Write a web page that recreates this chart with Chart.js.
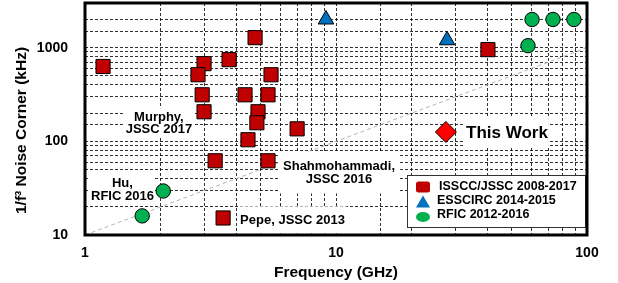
<!DOCTYPE html>
<html><head><meta charset="utf-8">
<script src="https://cdn.jsdelivr.net/npm/chart.js@4/dist/chart.umd.min.js"></script>
<style>html,body{margin:0;padding:0;background:#fff}canvas{display:block}</style>
</head><body>
<canvas id="c" width="618" height="283"></canvas>
<script>
const FONT = '"Liberation Sans", Arial, Helvetica, sans-serif';

// ---- data ----
const xTickLabels = [1, 10, 100];
const yTickLabels = [10, 100, 1000];
const seriesNames = ['ISSCC/JSSC 2008-2017', 'ESSCIRC 2014-2015', 'RFIC 2012-2016', 'This Work'];

const isscX = [1.18, 2.98, 2.82, 3.75, 4.76, 5.51, 2.93, 4.34, 5.36, 2.98, 4.89, 4.84, 7.0, 4.46, 3.30, 5.36, 3.55, 40.3];
const isscY = [630, 675, 514, 745, 1280, 514, 314, 314, 314, 207, 207, 158, 136, 104, 62, 62, 15.2, 953];

const esscX = [9.12, 27.7];
const esscY = [2000, 1200];

const rficX = [60.4, 73.2, 88.7, 58.2, 2.05, 1.69];
const rficY = [2000, 2000, 2000, 1050, 29.5, 16.0];

const thisX = [27.4];
const thisY = [126];

const trendX = [1, 100];
const trendY = [10, 1000];

// ---- annotation texts (anchored in data units) ----
const annotations = [
  { lines: ['Murphy,', 'JSSC 2017'], x: 1.97, y: 158, size: 13, lh: 12, padX: 2, padY: 2 },
  { lines: ['Hu,', 'RFIC 2016'], x: 1.41, y: 30.7, size: 13, lh: 13, padX: 1, padY: 1 },
  { lines: ['Shahmohammadi,', 'JSSC 2016'], x: 10.28, y: 46.6, size: 13, lh: 13, padX: 5, padY: 8 },
  { lines: ['Pepe, JSSC 2013'], x: 6.71, y: 14.5, size: 13, lh: 13, padX: 2, padY: 7 },
  { lines: ['This Work'], x: 48.0, y: 126, size: 17, lh: 17, padX: 1, padY: 6 }
];

function pts(xs, ys) { return xs.map((v, i) => ({ x: v, y: ys[i] })); }
function isOne(list, v) { return list.some(t => Math.abs(t - v) < 1e-6 * t); }

const GRID = 'rgba(0,0,0,0.8)';

const decor = {
  id: 'decor',
  afterDatasetsDraw(chart) {
    const { ctx, scales: { x, y }, chartArea: ca } = chart;
    ctx.save();
    annotations.forEach(a => {
      ctx.font = 'bold ' + a.size + 'px ' + FONT;
      const cx = x.getPixelForValue(a.x), cy = y.getPixelForValue(a.y);
      const w = Math.max(...a.lines.map(l => ctx.measureText(l).width)) + 2 * a.padX;
      const h = (a.lines.length - 1) * a.lh + a.size + 2 * a.padY;
      ctx.fillStyle = '#fff';
      ctx.fillRect(cx - w / 2, cy - h / 2, w, h);
      ctx.fillStyle = '#000';
      ctx.textAlign = 'center';
      ctx.textBaseline = 'middle';
      a.lines.forEach((l, i) => {
        ctx.fillText(l, cx, cy + (i - (a.lines.length - 1) / 2) * a.lh + 1);
      });
    });

    // legend
    const items = chart.data.datasets.filter(d => d.inLegend);
    const lw = 178, lh = 52;
    const lx = ca.right - 2 - lw, ly = ca.bottom - 8 - lh;
    ctx.fillStyle = '#fff';
    ctx.fillRect(lx, ly, lw, lh);
    ctx.strokeStyle = '#333';
    ctx.lineWidth = 1;
    ctx.strokeRect(Math.round(lx) + 0.5, Math.round(ly) + 0.5, lw, lh);
    ctx.font = 'bold 12.5px ' + FONT;
    ctx.textAlign = 'left';
    ctx.textBaseline = 'middle';
    items.forEach((d, i) => {
      const my = ly + 12 + i * 15;
      const mx = lx + 16;
      ctx.fillStyle = d.backgroundColor;
      ctx.beginPath();
      if (d.pointStyle === 'rect') {
        ctx.roundRect(mx - 7, my - 5.5, 14, 11, 2.5);
      } else if (d.pointStyle === 'triangle') {
        ctx.moveTo(mx, my - 6.5); ctx.lineTo(mx + 7, my + 5.5); ctx.lineTo(mx - 7, my + 5.5); ctx.closePath();
      } else {
        ctx.ellipse(mx, my, 7, 5, 0, 0, Math.PI * 2);
      }
      ctx.fill();
      ctx.fillStyle = '#000';
      ctx.fillText(d.label, lx + (i === 0 ? 32 : 30), ly + 12 + i * 14);
    });
    ctx.restore();
  },
  afterDraw(chart) {
    const { ctx, chartArea: ca } = chart;
    ctx.save();
    ctx.strokeStyle = '#000';
    ctx.lineWidth = 3;
    ctx.strokeRect(ca.left, ca.top, ca.right - ca.left, ca.bottom - ca.top);
    ctx.fillStyle = '#000';
    ctx.font = 'bold 15.5px ' + FONT;
    ctx.textAlign = 'center';
    ctx.textBaseline = 'middle';
    ctx.fillText('Frequency (GHz)', (ca.left + ca.right) / 2, 273);
    ctx.translate(22, 130.5);
    ctx.rotate(-Math.PI / 2);
    ctx.fillText('1/f\u00B3 Noise Corner (kHz)', 0, 0);
    ctx.restore();
  }
};

const tickFont = { family: FONT, size: 14, weight: 'bold' };

new Chart(document.getElementById('c'), {
  type: 'scatter',
  data: {
    datasets: [
      { label: seriesNames[3], data: pts(thisX, thisY), pointStyle: 'rectRot', pointRadius: 10.5,
        backgroundColor: '#ff0000', borderColor: '#000', borderWidth: 1, order: 0 },
      { label: seriesNames[0], inLegend: true, data: pts(isscX, isscY), pointStyle: 'rect', pointRadius: 10,
        backgroundColor: '#c00000', borderColor: '#000', borderWidth: 1, order: 1 },
      { label: seriesNames[1], inLegend: true, data: pts(esscX, esscY), pointStyle: 'triangle', pointRadius: 9,
        backgroundColor: '#0070c0', borderColor: '#000', borderWidth: 1, order: 2 },
      { label: seriesNames[2], inLegend: true, data: pts(rficX, rficY), pointStyle: 'circle', pointRadius: 7.2,
        backgroundColor: '#00b050', borderColor: '#000', borderWidth: 1, order: 3 },
      { label: 'trend', data: pts(trendX, trendY), showLine: true, pointRadius: 0,
        borderColor: '#b4b4b4', borderWidth: 1, borderDash: [4, 3], order: 10 }
    ]
  },
  options: {
    responsive: false,
    devicePixelRatio: 1,
    animation: false,
    events: [],
    layout: { autoPadding: false, padding: { left: 0, right: 31, top: 3, bottom: 0 } },
    plugins: { legend: { display: false }, tooltip: { enabled: false } },
    scales: {
      x: {
        type: 'logarithmic', min: 1, max: 100, position: 'bottom',
        afterFit(s) { s.height = 48; s.paddingLeft = 0; s.paddingRight = 0; },
        grid: { color: GRID, lineWidth: 1, drawTicks: false },
        border: { display: false, dash: [3, 2] },
        ticks: { autoSkip: false, maxRotation: 0, padding: 10, color: '#000', font: tickFont,
          callback: v => isOne(xTickLabels, v) ? String(Math.round(v)) : '' }
      },
      y: {
        type: 'logarithmic', min: 10, max: 3000, position: 'left',
        afterFit(s) { s.width = 85; s.paddingTop = 0; s.paddingBottom = 0; },
        grid: { color: GRID, lineWidth: 1, drawTicks: false },
        border: { display: false, dash: [3, 2] },
        ticks: { autoSkip: false, padding: 17, color: '#000', font: tickFont,
          callback: v => isOne(yTickLabels, v) ? String(Math.round(v)) : '' }
      }
    }
  },
  plugins: [decor]
});
</script>
</body></html>
